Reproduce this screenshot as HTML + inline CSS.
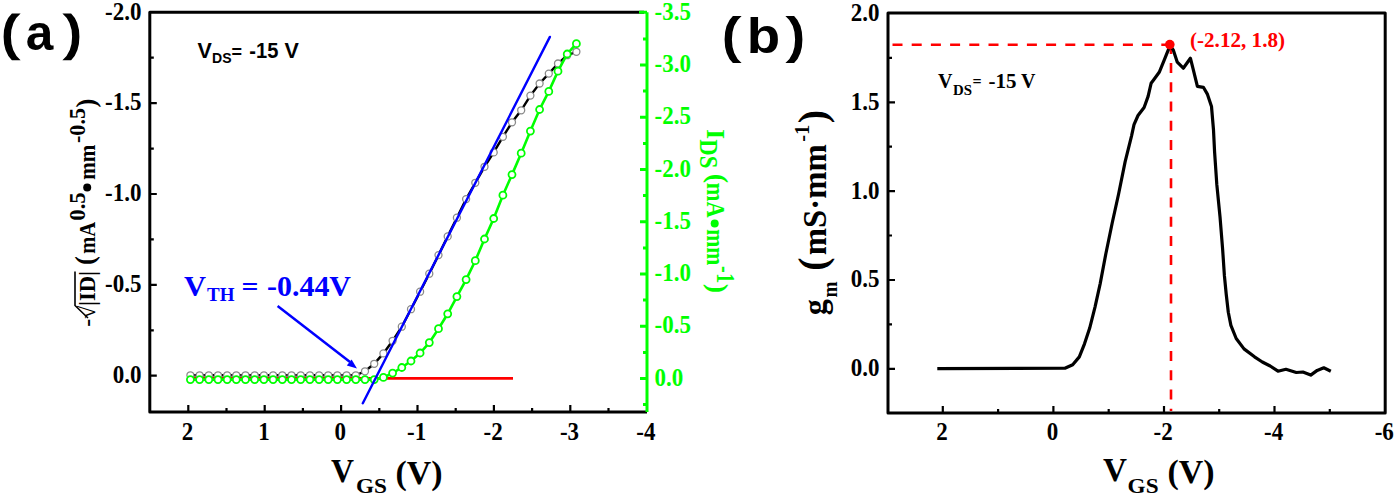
<!DOCTYPE html>
<html><head><meta charset="utf-8"><style>
html,body{margin:0;padding:0;background:#fff;overflow:hidden}
svg{display:block}
</style></head><body>
<svg width="1396" height="497" viewBox="0 0 1396 497">
<rect width="1396" height="497" fill="#fff"/>
<path d="M11.90,13.40 A16.40,26.91 0 0 0 11.90,60.20 L20.60,60.20 A19.16,26.91 0 0 1 20.60,13.40 Z" fill="#000"/>
<path transform="translate(83.0,0) scale(-1,1)" d="M11.90,13.40 A16.40,26.91 0 0 0 11.90,60.20 L20.60,60.20 A19.16,26.91 0 0 1 20.60,13.40 Z" fill="#000"/>
<text x="25.8" y="50.3" style="font-family:'Liberation Sans',sans-serif;font-weight:bold;font-size:49.5px;fill:#000">a</text>
<path d="M732.90,16.00 A16.40,27.02 0 0 0 732.90,63.00 L741.60,63.00 A19.16,27.02 0 0 1 741.60,16.00 Z" fill="#000"/>
<path transform="translate(1527.0,0) scale(-1,1)" d="M732.90,16.00 A16.40,27.02 0 0 0 732.90,63.00 L741.60,63.00 A19.16,27.02 0 0 1 741.60,16.00 Z" fill="#000"/>
<text x="746.7" y="53.0" textLength="33.4" lengthAdjust="spacingAndGlyphs" style="font-family:'Liberation Sans',sans-serif;font-weight:bold;font-size:50.5px;fill:#000">b</text>
<path d="M644.0,12.3 H149.8 V412.0 H647.0" fill="none" stroke="#000" stroke-width="3" stroke-linejoin="round"/>
<path d="M149.8,375.7h7 M149.8,284.9h7 M149.8,194.0h7 M149.8,103.2h7 M149.8,330.3h4 M149.8,239.4h4 M149.8,148.6h4 M149.8,57.7h4 M188.3,412.0v-7 M264.7,412.0v-7 M341.1,412.0v-7 M417.5,412.0v-7 M493.9,412.0v-7 M570.3,412.0v-7 M226.5,412.0v-4 M302.9,412.0v-4 M379.3,412.0v-4 M455.7,412.0v-4 M532.1,412.0v-4 M608.5,412.0v-4" stroke="#000" stroke-width="2.2" fill="none"/>
<text x="141.5" y="382.9" text-anchor="end" textLength="28.75" lengthAdjust="spacingAndGlyphs" style="font-family:'Liberation Serif',serif;font-weight:bold;font-size:24.5px;fill:#000">0.0</text>
<text x="141.5" y="292.1" text-anchor="end" textLength="36.409" lengthAdjust="spacingAndGlyphs" style="font-family:'Liberation Serif',serif;font-weight:bold;font-size:24.5px;fill:#000">-0.5</text>
<text x="141.5" y="201.2" text-anchor="end" textLength="36.409" lengthAdjust="spacingAndGlyphs" style="font-family:'Liberation Serif',serif;font-weight:bold;font-size:24.5px;fill:#000">-1.0</text>
<text x="141.5" y="110.4" text-anchor="end" textLength="36.409" lengthAdjust="spacingAndGlyphs" style="font-family:'Liberation Serif',serif;font-weight:bold;font-size:24.5px;fill:#000">-1.5</text>
<text x="141.5" y="19.5" text-anchor="end" textLength="36.409" lengthAdjust="spacingAndGlyphs" style="font-family:'Liberation Serif',serif;font-weight:bold;font-size:24.5px;fill:#000">-2.0</text>
<text x="187.5" y="440.2" text-anchor="middle" textLength="11.5" lengthAdjust="spacingAndGlyphs" style="font-family:'Liberation Serif',serif;font-weight:bold;font-size:24.5px;fill:#000">2</text>
<text x="263.9" y="440.2" text-anchor="middle" textLength="11.5" lengthAdjust="spacingAndGlyphs" style="font-family:'Liberation Serif',serif;font-weight:bold;font-size:24.5px;fill:#000">1</text>
<text x="340.3" y="440.2" text-anchor="middle" textLength="11.5" lengthAdjust="spacingAndGlyphs" style="font-family:'Liberation Serif',serif;font-weight:bold;font-size:24.5px;fill:#000">0</text>
<text x="416.7" y="440.2" text-anchor="middle" textLength="19.159" lengthAdjust="spacingAndGlyphs" style="font-family:'Liberation Serif',serif;font-weight:bold;font-size:24.5px;fill:#000">-1</text>
<text x="493.1" y="440.2" text-anchor="middle" textLength="19.159" lengthAdjust="spacingAndGlyphs" style="font-family:'Liberation Serif',serif;font-weight:bold;font-size:24.5px;fill:#000">-2</text>
<text x="569.5" y="440.2" text-anchor="middle" textLength="19.159" lengthAdjust="spacingAndGlyphs" style="font-family:'Liberation Serif',serif;font-weight:bold;font-size:24.5px;fill:#000">-3</text>
<text x="645.9" y="440.2" text-anchor="middle" textLength="19.159" lengthAdjust="spacingAndGlyphs" style="font-family:'Liberation Serif',serif;font-weight:bold;font-size:24.5px;fill:#000">-4</text>
<path d="M647.0,12.3 V412.0 M639.0,12.3H647.0 M647.0,378.5h-7 M647.0,326.2h-7 M647.0,274.0h-7 M647.0,221.8h-7 M647.0,169.5h-7 M647.0,117.2h-7 M647.0,65.0h-7 M647.0,404.6h-4 M647.0,352.4h-4 M647.0,300.1h-4 M647.0,247.9h-4 M647.0,195.6h-4 M647.0,143.4h-4 M647.0,91.1h-4 M647.0,38.9h-4" stroke="#00ff00" stroke-width="3" fill="none"/>
<text x="654.5" y="385.5" textLength="28.75" lengthAdjust="spacingAndGlyphs" style="font-family:'Liberation Serif',serif;font-weight:bold;font-size:24.5px;fill:#00ff00">0.0</text>
<text x="654.5" y="333.2" textLength="36.409" lengthAdjust="spacingAndGlyphs" style="font-family:'Liberation Serif',serif;font-weight:bold;font-size:24.5px;fill:#00ff00">-0.5</text>
<text x="654.5" y="281.0" textLength="36.409" lengthAdjust="spacingAndGlyphs" style="font-family:'Liberation Serif',serif;font-weight:bold;font-size:24.5px;fill:#00ff00">-1.0</text>
<text x="654.5" y="228.8" textLength="36.409" lengthAdjust="spacingAndGlyphs" style="font-family:'Liberation Serif',serif;font-weight:bold;font-size:24.5px;fill:#00ff00">-1.5</text>
<text x="654.5" y="176.5" textLength="36.409" lengthAdjust="spacingAndGlyphs" style="font-family:'Liberation Serif',serif;font-weight:bold;font-size:24.5px;fill:#00ff00">-2.0</text>
<text x="654.5" y="124.2" textLength="36.409" lengthAdjust="spacingAndGlyphs" style="font-family:'Liberation Serif',serif;font-weight:bold;font-size:24.5px;fill:#00ff00">-2.5</text>
<text x="654.5" y="72.0" textLength="36.409" lengthAdjust="spacingAndGlyphs" style="font-family:'Liberation Serif',serif;font-weight:bold;font-size:24.5px;fill:#00ff00">-3.0</text>
<text x="654.5" y="19.8" textLength="36.409" lengthAdjust="spacingAndGlyphs" style="font-family:'Liberation Serif',serif;font-weight:bold;font-size:24.5px;fill:#00ff00">-3.5</text>
<polyline points="190.4,375.3 199.6,375.3 208.8,375.3 218.0,375.3 227.2,375.3 236.3,375.3 245.5,375.3 254.7,375.3 263.9,375.3 273.1,375.3 282.3,375.3 291.5,375.3 300.7,375.3 309.9,375.3 319.1,375.3 328.2,375.3 337.4,375.3 346.6,375.3 355.8,375.3 365.0,371.3 374.2,363.8 383.4,353.4 392.6,340.8 401.8,326.7 411.0,309.2 420.1,291.7 429.3,273.7 438.5,255.1 447.7,236.4 456.9,217.7 466.1,199.1 475.3,182.8 484.5,166.8 493.7,152.4 502.9,136.8 512.0,122.3 521.2,110.3 530.4,95.6 539.6,83.5 548.8,73.6 558.0,63.5 567.2,55.2 576.4,51.8" fill="none" stroke="#000" stroke-width="2.4"/>
<g fill="#fff" stroke="#8a8a8a" stroke-width="1.3"><circle cx="190.4" cy="375.3" r="3.5"/><circle cx="199.6" cy="375.3" r="3.5"/><circle cx="208.8" cy="375.3" r="3.5"/><circle cx="218.0" cy="375.3" r="3.5"/><circle cx="227.2" cy="375.3" r="3.5"/><circle cx="236.3" cy="375.3" r="3.5"/><circle cx="245.5" cy="375.3" r="3.5"/><circle cx="254.7" cy="375.3" r="3.5"/><circle cx="263.9" cy="375.3" r="3.5"/><circle cx="273.1" cy="375.3" r="3.5"/><circle cx="282.3" cy="375.3" r="3.5"/><circle cx="291.5" cy="375.3" r="3.5"/><circle cx="300.7" cy="375.3" r="3.5"/><circle cx="309.9" cy="375.3" r="3.5"/><circle cx="319.1" cy="375.3" r="3.5"/><circle cx="328.2" cy="375.3" r="3.5"/><circle cx="337.4" cy="375.3" r="3.5"/><circle cx="346.6" cy="375.3" r="3.5"/><circle cx="355.8" cy="375.3" r="3.5"/><circle cx="365.0" cy="371.3" r="3.5"/><circle cx="374.2" cy="363.8" r="3.5"/><circle cx="383.4" cy="353.4" r="3.5"/><circle cx="392.6" cy="340.8" r="3.5"/><circle cx="401.8" cy="326.7" r="3.5"/><circle cx="411.0" cy="309.2" r="3.5"/><circle cx="420.1" cy="291.7" r="3.5"/><circle cx="429.3" cy="273.7" r="3.5"/><circle cx="438.5" cy="255.1" r="3.5"/><circle cx="447.7" cy="236.4" r="3.5"/><circle cx="456.9" cy="217.7" r="3.5"/><circle cx="466.1" cy="199.1" r="3.5"/><circle cx="475.3" cy="182.8" r="3.5"/><circle cx="484.5" cy="166.8" r="3.5"/><circle cx="493.7" cy="152.4" r="3.5"/><circle cx="502.9" cy="136.8" r="3.5"/><circle cx="512.0" cy="122.3" r="3.5"/><circle cx="521.2" cy="110.3" r="3.5"/><circle cx="530.4" cy="95.6" r="3.5"/><circle cx="539.6" cy="83.5" r="3.5"/><circle cx="548.8" cy="73.6" r="3.5"/><circle cx="558.0" cy="63.5" r="3.5"/><circle cx="567.2" cy="55.2" r="3.5"/><circle cx="576.4" cy="51.8" r="3.5"/></g>
<path d="M187,378.4 H513" stroke="#ff0000" stroke-width="2.6"/>
<polyline points="190.4,379.6 199.6,379.6 208.8,379.6 218.0,379.6 227.2,379.6 236.3,379.6 245.5,379.6 254.7,379.6 263.9,379.6 273.1,379.6 282.3,379.6 291.5,379.6 300.7,379.6 309.9,379.6 319.1,379.6 328.2,379.6 337.4,379.6 346.6,379.6 355.8,379.6 365.0,379.6 374.2,379.6 383.4,377.4 392.6,373.1 401.8,367.5 411.0,361.0 420.1,353.0 429.3,342.6 438.5,328.7 447.7,313.8 456.9,296.6 466.1,279.6 475.3,260.7 484.5,239.0 493.7,218.5 502.9,195.2 512.0,174.6 521.2,153.2 530.4,131.1 539.6,109.5 548.8,91.4 558.0,71.2 567.2,54.0 576.4,43.7" fill="none" stroke="#00ff00" stroke-width="2.6"/>
<g fill="#fff" stroke="#00ff00" stroke-width="1.8"><circle cx="190.4" cy="379.6" r="3.5"/><circle cx="199.6" cy="379.6" r="3.5"/><circle cx="208.8" cy="379.6" r="3.5"/><circle cx="218.0" cy="379.6" r="3.5"/><circle cx="227.2" cy="379.6" r="3.5"/><circle cx="236.3" cy="379.6" r="3.5"/><circle cx="245.5" cy="379.6" r="3.5"/><circle cx="254.7" cy="379.6" r="3.5"/><circle cx="263.9" cy="379.6" r="3.5"/><circle cx="273.1" cy="379.6" r="3.5"/><circle cx="282.3" cy="379.6" r="3.5"/><circle cx="291.5" cy="379.6" r="3.5"/><circle cx="300.7" cy="379.6" r="3.5"/><circle cx="309.9" cy="379.6" r="3.5"/><circle cx="319.1" cy="379.6" r="3.5"/><circle cx="328.2" cy="379.6" r="3.5"/><circle cx="337.4" cy="379.6" r="3.5"/><circle cx="346.6" cy="379.6" r="3.5"/><circle cx="355.8" cy="379.6" r="3.5"/><circle cx="365.0" cy="379.6" r="3.5"/><circle cx="374.2" cy="379.6" r="3.5"/><circle cx="383.4" cy="377.4" r="3.5"/><circle cx="392.6" cy="373.1" r="3.5"/><circle cx="401.8" cy="367.5" r="3.5"/><circle cx="411.0" cy="361.0" r="3.5"/><circle cx="420.1" cy="353.0" r="3.5"/><circle cx="429.3" cy="342.6" r="3.5"/><circle cx="438.5" cy="328.7" r="3.5"/><circle cx="447.7" cy="313.8" r="3.5"/><circle cx="456.9" cy="296.6" r="3.5"/><circle cx="466.1" cy="279.6" r="3.5"/><circle cx="475.3" cy="260.7" r="3.5"/><circle cx="484.5" cy="239.0" r="3.5"/><circle cx="493.7" cy="218.5" r="3.5"/><circle cx="502.9" cy="195.2" r="3.5"/><circle cx="512.0" cy="174.6" r="3.5"/><circle cx="521.2" cy="153.2" r="3.5"/><circle cx="530.4" cy="131.1" r="3.5"/><circle cx="539.6" cy="109.5" r="3.5"/><circle cx="548.8" cy="91.4" r="3.5"/><circle cx="558.0" cy="71.2" r="3.5"/><circle cx="567.2" cy="54.0" r="3.5"/><circle cx="576.4" cy="43.7" r="3.5"/></g>
<path d="M362.8,403.3 L549.9,36.9" stroke="#0000ff" stroke-width="2.4" stroke-linecap="round"/>
<path d="M277.6,305.9 L350,362" stroke="#0000ff" stroke-width="2.5"/>
<path d="M357,368.6 L346.8,365.4 L351.6,359.4 Z" fill="#0000ff"/>
<text x="184.0" y="295.5" textLength="22" lengthAdjust="spacingAndGlyphs" style="font-family:'Liberation Serif',serif;font-weight:bold;font-size:30px;fill:#0000ff">V</text>
<text x="207.0" y="301.0" style="font-family:'Liberation Serif',serif;font-weight:bold;font-size:19px;fill:#0000ff">TH</text>
<text x="241.5" y="295.8" textLength="17" lengthAdjust="spacingAndGlyphs" style="font-family:'Liberation Serif',serif;font-weight:bold;font-size:28px;fill:#0000ff">=</text>
<text x="267.0" y="296.0" textLength="84" lengthAdjust="spacingAndGlyphs" style="font-family:'Liberation Serif',serif;font-weight:bold;font-size:30px;fill:#0000ff">-0.44V</text>
<text x="197.5" y="58.0" style="font-family:'Liberation Sans',sans-serif;font-weight:bold;font-size:21.5px;fill:#000">V</text>
<text x="212.0" y="63.3" textLength="19.5" lengthAdjust="spacingAndGlyphs" style="font-family:'Liberation Sans',sans-serif;font-weight:bold;font-size:15px;fill:#000">DS</text>
<text x="231.5" y="57.5" style="font-family:'Liberation Sans',sans-serif;font-weight:bold;font-size:18px;fill:#000">=</text>
<text x="249.3" y="58.0" textLength="29" lengthAdjust="spacingAndGlyphs" style="font-family:'Liberation Sans',sans-serif;font-weight:bold;font-size:21.5px;fill:#000">-15</text>
<text x="284.5" y="58.0" style="font-family:'Liberation Sans',sans-serif;font-weight:bold;font-size:21.5px;fill:#000">V</text>
<text x="331.0" y="481.5" textLength="23" lengthAdjust="spacingAndGlyphs" style="font-family:'Liberation Serif',serif;font-weight:bold;font-size:33.5px;fill:#000">V</text>
<text x="356.0" y="492.5" textLength="31" lengthAdjust="spacingAndGlyphs" style="font-family:'Liberation Serif',serif;font-weight:bold;font-size:22px;fill:#000">GS</text>
<text x="395.5" y="484.0" textLength="47" lengthAdjust="spacingAndGlyphs" style="font-family:'Liberation Serif',serif;font-weight:bold;font-size:34px;fill:#000">(V)</text>
<text transform="translate(95.2,316.2) rotate(-90)" text-anchor="middle" textLength="21" lengthAdjust="spacingAndGlyphs" style="font-family:'Liberation Serif',serif;font-weight:bold;font-size:23px;fill:#000">-√</text>
<text transform="translate(95.2,288.5) rotate(-90)" text-anchor="middle" textLength="35" lengthAdjust="spacingAndGlyphs" style="font-family:'Liberation Serif',serif;font-weight:bold;font-size:23px;fill:#000">|ID|</text>
<path d="M75,271.5 V305.5 L88,318" stroke="#000" stroke-width="1.6" fill="none"/>
<text transform="translate(93.7,260.5) rotate(-90)" text-anchor="middle" style="font-family:'Liberation Serif',serif;font-weight:bold;font-size:27px;fill:#000">(</text>
<text transform="translate(95.2,237.8) rotate(-90)" text-anchor="middle" textLength="32" lengthAdjust="spacingAndGlyphs" style="font-family:'Liberation Serif',serif;font-weight:bold;font-size:23px;fill:#000">mA</text>
<text transform="translate(85.0,206.5) rotate(-90)" text-anchor="middle" textLength="28.5" lengthAdjust="spacingAndGlyphs" style="font-family:'Liberation Serif',serif;font-weight:bold;font-size:24px;fill:#000">0.5</text>
<circle cx="87.2" cy="187.5" r="4" fill="#000"/>
<text transform="translate(95.2,162.2) rotate(-90)" text-anchor="middle" textLength="35" lengthAdjust="spacingAndGlyphs" style="font-family:'Liberation Serif',serif;font-weight:bold;font-size:23px;fill:#000">mm</text>
<text transform="translate(85.0,125.5) rotate(-90)" text-anchor="middle" textLength="35" lengthAdjust="spacingAndGlyphs" style="font-family:'Liberation Serif',serif;font-weight:bold;font-size:24px;fill:#000">-0.5</text>
<text transform="translate(94.7,103.0) rotate(-90)" text-anchor="middle" style="font-family:'Liberation Serif',serif;font-weight:bold;font-size:27px;fill:#000">)</text>
<text transform="translate(707.3,134.2) rotate(90)" text-anchor="middle" style="font-family:'Liberation Serif',serif;font-weight:bold;font-size:25.5px;fill:#00ff00">I</text>
<text transform="translate(699.8,153.8) rotate(90)" text-anchor="middle" textLength="29" lengthAdjust="spacingAndGlyphs" style="font-family:'Liberation Serif',serif;font-weight:bold;font-size:25.5px;fill:#00ff00">DS</text>
<text transform="translate(709.3,178.3) rotate(90)" text-anchor="middle" style="font-family:'Liberation Serif',serif;font-weight:bold;font-size:28px;fill:#00ff00">(</text>
<text transform="translate(707.3,200.3) rotate(90)" text-anchor="middle" textLength="35" lengthAdjust="spacingAndGlyphs" style="font-family:'Liberation Serif',serif;font-weight:bold;font-size:25px;fill:#00ff00">mA</text>
<circle cx="714.7" cy="223.5" r="4" fill="#00ff00"/>
<text transform="translate(707.3,247.2) rotate(90)" text-anchor="middle" textLength="36" lengthAdjust="spacingAndGlyphs" style="font-family:'Liberation Serif',serif;font-weight:bold;font-size:25.5px;fill:#00ff00">mm</text>
<text transform="translate(717.3,274.6) rotate(90)" text-anchor="middle" textLength="17" lengthAdjust="spacingAndGlyphs" style="font-family:'Liberation Serif',serif;font-weight:bold;font-size:25px;fill:#00ff00">-1</text>
<text transform="translate(708.8,288.3) rotate(90)" text-anchor="middle" style="font-family:'Liberation Serif',serif;font-weight:bold;font-size:28px;fill:#00ff00">)</text>
<rect x="888.0" y="13.1" width="497.20000000000005" height="399.79999999999995" fill="none" stroke="#000" stroke-width="3" stroke-linejoin="round"/>
<path d="M888.0,368.8h7 M888.0,280.0h7 M888.0,191.1h7 M888.0,102.3h7 M888.0,324.4h4 M888.0,235.5h4 M888.0,146.7h4 M888.0,57.8h4 M942.8,412.9v-7 M1053.4,412.9v-7 M1164.0,412.9v-7 M1274.5,412.9v-7 M998.1,412.9v-4 M1108.7,412.9v-4 M1219.2,412.9v-4 M1329.8,412.9v-4" stroke="#000" stroke-width="2.2" fill="none"/>
<text x="879.5" y="376.2" text-anchor="end" textLength="28.75" lengthAdjust="spacingAndGlyphs" style="font-family:'Liberation Serif',serif;font-weight:bold;font-size:24.5px;fill:#000">0.0</text>
<text x="879.5" y="287.4" text-anchor="end" textLength="28.75" lengthAdjust="spacingAndGlyphs" style="font-family:'Liberation Serif',serif;font-weight:bold;font-size:24.5px;fill:#000">0.5</text>
<text x="879.5" y="198.5" text-anchor="end" textLength="28.75" lengthAdjust="spacingAndGlyphs" style="font-family:'Liberation Serif',serif;font-weight:bold;font-size:24.5px;fill:#000">1.0</text>
<text x="879.5" y="109.7" text-anchor="end" textLength="28.75" lengthAdjust="spacingAndGlyphs" style="font-family:'Liberation Serif',serif;font-weight:bold;font-size:24.5px;fill:#000">1.5</text>
<text x="879.5" y="20.8" text-anchor="end" textLength="28.75" lengthAdjust="spacingAndGlyphs" style="font-family:'Liberation Serif',serif;font-weight:bold;font-size:24.5px;fill:#000">2.0</text>
<text x="942.0" y="440.2" text-anchor="middle" textLength="11.5" lengthAdjust="spacingAndGlyphs" style="font-family:'Liberation Serif',serif;font-weight:bold;font-size:24.5px;fill:#000">2</text>
<text x="1052.6" y="440.2" text-anchor="middle" textLength="11.5" lengthAdjust="spacingAndGlyphs" style="font-family:'Liberation Serif',serif;font-weight:bold;font-size:24.5px;fill:#000">0</text>
<text x="1163.2" y="440.2" text-anchor="middle" textLength="19.159" lengthAdjust="spacingAndGlyphs" style="font-family:'Liberation Serif',serif;font-weight:bold;font-size:24.5px;fill:#000">-2</text>
<text x="1273.7" y="440.2" text-anchor="middle" textLength="19.159" lengthAdjust="spacingAndGlyphs" style="font-family:'Liberation Serif',serif;font-weight:bold;font-size:24.5px;fill:#000">-4</text>
<text x="1384.3" y="440.2" text-anchor="middle" textLength="19.159" lengthAdjust="spacingAndGlyphs" style="font-family:'Liberation Serif',serif;font-weight:bold;font-size:24.5px;fill:#000">-6</text>
<path d="M892.5,44.8 H1166 M1171,43.9 V411" stroke="#ff0000" stroke-width="2.6" stroke-dasharray="10,9.2" fill="none"/>
<polyline points="937.3,368.6 1064.9,368.2 1072.7,364.7 1079.3,356.9 1084.5,343.8 1089.7,328.1 1095.0,307.1 1100.2,283.6 1105.8,254.0 1112.2,223.0 1118.6,194.0 1125.1,161.9 1131.5,136.1 1134.0,124.6 1138.0,115.5 1144.1,107.5 1148.1,96.4 1151.1,83.3 1154.1,79.3 1159.2,72.3 1164.2,60.2 1168.2,50.1 1170.2,46.1 1173.3,50.1 1177.3,62.2 1183.3,68.2 1190.4,58.2 1193.4,70.2 1197.4,86.3 1203.4,87.3 1207.5,94.4 1211.5,106.5 1213.5,130.0 1214.6,152.2 1216.8,184.4 1220.0,216.6 1222.6,248.8 1224.4,275.7 1226.2,294.0 1228.3,312.3 1230.9,325.4 1236.2,338.5 1244.0,348.9 1254.5,356.8 1262.3,362.0 1270.2,366.0 1278.0,371.2 1285.9,369.3 1296.3,372.5 1302.9,372.0 1310.7,375.1 1317.2,370.4 1323.8,367.8 1330.8,371.2" fill="none" stroke="#000" stroke-width="3.2" stroke-linejoin="round"/>
<circle cx="1169.8" cy="44.6" r="4.8" fill="#ff0000"/>
<text x="1190.0" y="47.4" textLength="95" lengthAdjust="spacingAndGlyphs" style="font-family:'Liberation Serif',serif;font-weight:bold;font-size:21px;fill:#ff0000">(-2.12, 1.8)</text>
<text x="938.0" y="87.5" style="font-family:'Liberation Serif',serif;font-weight:bold;font-size:20px;fill:#000">V</text>
<text x="953.0" y="94.5" textLength="19" lengthAdjust="spacingAndGlyphs" style="font-family:'Liberation Serif',serif;font-weight:bold;font-size:14px;fill:#000">DS</text>
<text x="972.5" y="86.8" style="font-family:'Liberation Serif',serif;font-weight:bold;font-size:16px;fill:#000">=</text>
<text x="988.5" y="87.5" textLength="28" lengthAdjust="spacingAndGlyphs" style="font-family:'Liberation Serif',serif;font-weight:bold;font-size:20px;fill:#000">-15</text>
<text x="1021.0" y="87.5" style="font-family:'Liberation Serif',serif;font-weight:bold;font-size:20px;fill:#000">V</text>
<text x="1103.0" y="480.5" textLength="24" lengthAdjust="spacingAndGlyphs" style="font-family:'Liberation Serif',serif;font-weight:bold;font-size:33.5px;fill:#000">V</text>
<text x="1127.6" y="493.2" textLength="31" lengthAdjust="spacingAndGlyphs" style="font-family:'Liberation Serif',serif;font-weight:bold;font-size:22px;fill:#000">GS</text>
<text x="1167.5" y="483.0" textLength="47" lengthAdjust="spacingAndGlyphs" style="font-family:'Liberation Serif',serif;font-weight:bold;font-size:34px;fill:#000">(V)</text>
<text transform="translate(825.5,307.3) rotate(-90)" text-anchor="middle" textLength="16" lengthAdjust="spacingAndGlyphs" style="font-family:'Liberation Serif',serif;font-weight:bold;font-size:33px;fill:#000">g</text>
<text transform="translate(837.0,289.6) rotate(-90)" text-anchor="middle" textLength="16" lengthAdjust="spacingAndGlyphs" style="font-family:'Liberation Serif',serif;font-weight:bold;font-size:22px;fill:#000">m</text>
<text transform="translate(825.5,264.2) rotate(-90)" text-anchor="middle" style="font-family:'Liberation Serif',serif;font-weight:bold;font-size:40px;fill:#000">(</text>
<text transform="translate(825.5,199.8) rotate(-90)" text-anchor="middle" textLength="111" lengthAdjust="spacingAndGlyphs" style="font-family:'Liberation Serif',serif;font-weight:bold;font-size:33px;fill:#000">mS·mm</text>
<text transform="translate(809.0,133.3) rotate(-90)" text-anchor="middle" textLength="17" lengthAdjust="spacingAndGlyphs" style="font-family:'Liberation Serif',serif;font-weight:bold;font-size:21px;fill:#000">-1</text>
<text transform="translate(825.5,116.5) rotate(-90)" text-anchor="middle" style="font-family:'Liberation Serif',serif;font-weight:bold;font-size:40px;fill:#000">)</text>
</svg>
</body></html>
